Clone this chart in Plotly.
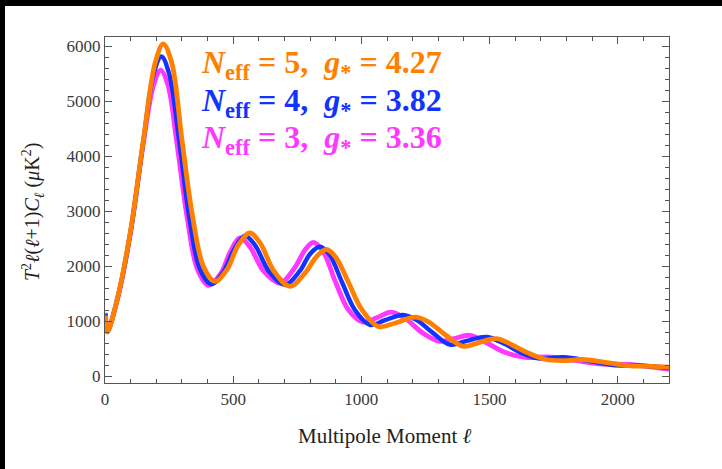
import plotly.graph_objects as go

# Multipole moments and band powers for each effective neutrino number
ell_n3 = [2, 9, 50, 100, 150, 190, 217, 245, 280, 320, 360, 403, 450, 490, 526, 565, 620,
          682, 740, 780, 812, 850, 900, 950, 1007, 1060, 1117, 1170, 1240, 1306, 1360, 1423,
          1490, 1560, 1640, 1740, 1840, 1930, 2040, 2120, 2200]
cl_n3 = [1150, 810, 1430, 2620, 4250, 5300, 5560, 5300, 4250, 2900, 1950, 1650, 1850,
         2270, 2510, 2350, 1900, 1690, 1970, 2290, 2430, 2270, 1700, 1200, 980, 1060, 1160,
         1050, 780, 630, 680, 740, 600, 430, 340, 345, 280, 220, 210, 170, 120]

ell_n4 = [2, 9, 50, 100, 150, 190, 220, 250, 290, 330, 370, 415, 460, 505, 546, 585, 640,
          702, 760, 800, 838, 875, 925, 975, 1033, 1090, 1163, 1215, 1280, 1345, 1410, 1490,
          1560, 1620, 1690, 1790, 1880, 1980, 2080, 2200]
cl_n4 = [1130, 805, 1430, 2630, 4280, 5500, 5810, 5500, 4250, 2850, 1950, 1670, 1880,
         2310, 2550, 2380, 1900, 1660, 1910, 2220, 2350, 2210, 1700, 1200, 930, 1010, 1110,
         1020, 780, 570, 640, 710, 580, 430, 320, 340, 280, 200, 190, 145]

ell_n5 = [2, 9, 50, 100, 150, 195, 227, 260, 300, 340, 385, 429, 475, 520, 565, 605, 660,
          721, 780, 825, 864, 900, 950, 1000, 1066, 1130, 1209, 1260, 1330, 1397, 1460, 1527,
          1590, 1650, 1720, 1790, 1860, 1950, 2040, 2130, 2200]
cl_n5 = [1100, 800, 1440, 2650, 4300, 5680, 6040, 5700, 4300, 2950, 1980, 1720, 1930,
         2380, 2600, 2420, 1900, 1630, 1870, 2170, 2300, 2160, 1700, 1220, 900, 960, 1070,
         990, 740, 540, 610, 680, 560, 420, 300, 280, 300, 250, 190, 175, 160]

series_labels = [
    "<b><i>N</i><sub>eff</sub> = 5,\u00a0\u00a0<i>g</i><sub>*</sub> = 4.27</b>",
    "<b><i>N</i><sub>eff</sub> = 4,\u00a0\u00a0<i>g</i><sub>*</sub> = 3.82</b>",
    "<b><i>N</i><sub>eff</sub> = 3,\u00a0\u00a0<i>g</i><sub>*</sub> = 3.36</b>",
]

x_ticks = [0, 500, 1000, 1500, 2000]
y_ticks = [0, 1000, 2000, 3000, 4000, 5000, 6000]

ORANGE = "#FF8000"
BLUE = "#1233FF"
MAGENTA = "#FF38FF"

W, H = 722, 469
ML, MR, MT, MB = 105, 53, 37, 86
SERIF = "Liberation Serif, Times New Roman, serif"

fig = go.Figure()

# draw order: magenta underneath, orange on top
for ell, cl, col, w in [(ell_n3, cl_n3, MAGENTA, 4.8),
                        (ell_n4, cl_n4, BLUE, 4.4),
                        (ell_n5, cl_n5, ORANGE, 4.8)]:
    fig.add_trace(go.Scatter(x=ell, y=cl, mode="lines",
                             line=dict(color=col, width=w, shape="spline", smoothing=1.0),
                             showlegend=False, hoverinfo="skip"))

axis_common = dict(
    showline=True, linecolor="#555555", linewidth=1.2, mirror="ticks",
    ticks="inside", ticklen=7, tickwidth=1, tickcolor="#555555",
    showgrid=False, zeroline=False,
    tickfont=dict(family=SERIF, size=17, color="#3a3a3a"),
)

fig.update_xaxes(range=[0, 2200], tickvals=x_ticks, ticktext=[str(v) for v in x_ticks],
                 minor=dict(ticks="inside", ticklen=4, dtick=100, tick0=0,
                            tickcolor="#555555", showgrid=False),
                 **axis_common)
fig.update_yaxes(range=[-127, 6164], tickvals=y_ticks, ticktext=[str(v) for v in y_ticks],
                 minor=dict(ticks="inside", ticklen=4, dtick=200, tick0=0,
                            tickcolor="#555555", showgrid=False),
                 **axis_common)

pw = W - ML - MR
ph = H - MT - MB

annotations = []
# series captions
for i, (txt, col) in enumerate(zip(series_labels, [ORANGE, BLUE, MAGENTA])):
    y_px = 64 + i * 38
    annotations.append(dict(
        text=txt, xref="paper", yref="paper",
        x=(199 - ML) / pw, y=1 - (y_px - MT) / ph,
        xanchor="left", yanchor="middle", showarrow=False,
        font=dict(family=SERIF, size=32, color=col)))

# axis titles
annotations.append(dict(
    text="Multipole Moment <i>ℓ</i>", xref="paper", yref="paper",
    x=(385 - ML) / pw, y=1 - (436 - MT) / ph, xanchor="center", yanchor="middle",
    showarrow=False, font=dict(family=SERIF, size=21, color="#222222")))
annotations.append(dict(
    text="<i>T</i><sup>2</sup><i>ℓ</i>(<i>ℓ</i>+1)<i>C</i><sub><i>ℓ</i></sub> (<i>μ</i>K<sup>2</sup>)",
    xref="paper", yref="paper",
    x=(33 - ML) / pw, y=1 - (212 - MT) / ph, xanchor="center", yanchor="middle",
    textangle=-90, showarrow=False, font=dict(family=SERIF, size=20, color="#222222")))

# dark frame strips along the top and left edges of the canvas
shapes = [
    dict(type="rect", xref="paper", yref="paper", layer="above",
         x0=-ML / pw, x1=1 + MR / pw, y0=1 + (MT - 6) / ph, y1=1 + MT / ph,
         fillcolor="black", line=dict(width=0)),
    dict(type="rect", xref="paper", yref="paper", layer="above",
         x0=-ML / pw, x1=-(ML - 5) / pw, y0=-MB / ph, y1=1 + MT / ph,
         fillcolor="black", line=dict(width=0)),
]

fig.update_layout(
    width=W, height=H,
    margin=dict(l=ML, r=MR, t=MT, b=MB, pad=0),
    paper_bgcolor="white", plot_bgcolor="white",
    annotations=annotations, shapes=shapes,
)

fig.write_html("out.html")
